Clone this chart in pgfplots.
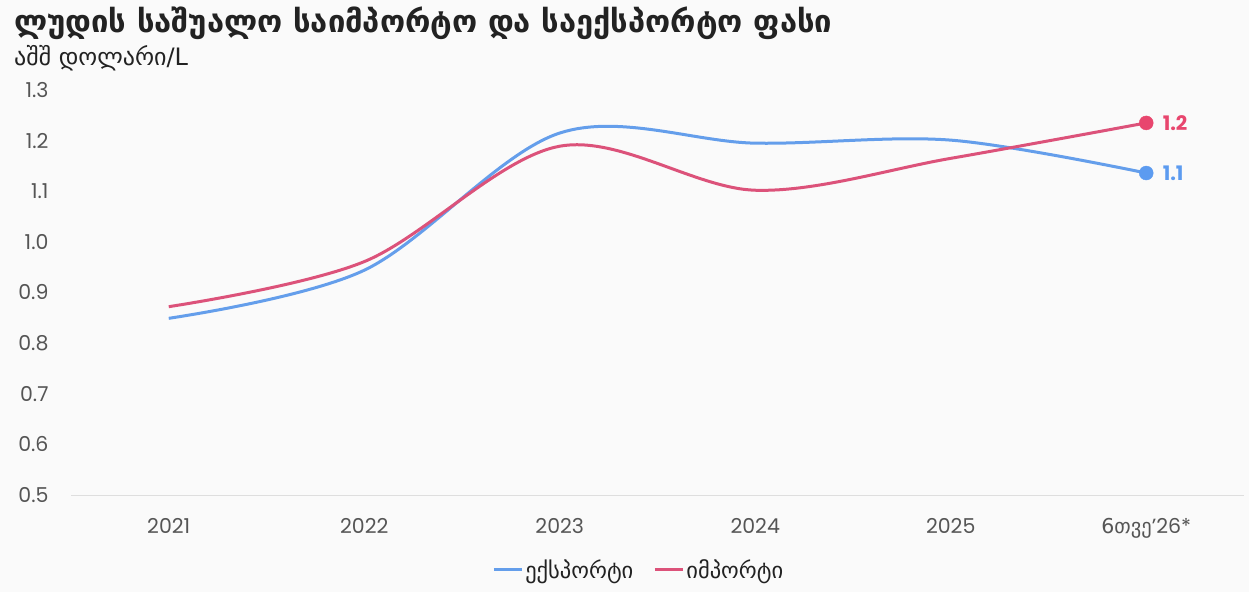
\documentclass[border=0pt]{standalone}
\usepackage{pgfplots}
\pgfplotsset{compat=1.18}
\usepackage{fontspec}
\setmainfont{Poppins}
\newfontfamily\geo{DejaVu Sans}
\definecolor{bg}{HTML}{FAFAFA}
\definecolor{expc}{HTML}{649EEB}
\definecolor{impc}{HTML}{DC527A}
\definecolor{expm}{HTML}{5C9BF0}
\definecolor{impm}{HTML}{E8466E}
\definecolor{tickc}{HTML}{555555}
\definecolor{titlec}{HTML}{222222}
\begin{document}
\begin{tikzpicture}[x=1pt,y=1pt]
\fill[bg] (0,0) rectangle (1249,592);
\node[anchor=base west, font=\geo\bfseries\fontsize{30.9}{34}\selectfont, text=titlec, inner sep=0] at (14,559) {ლუდის საშუალო საიმპორტო და საექსპორტო ფასი};
\node[anchor=base west, font=\geo\fontsize{24}{26}\selectfont, text=titlec, inner sep=0] at (14,526) {აშშ დოლარი/L};
\begin{axis}[
  at={(71pt,97pt)}, anchor=south west, scale only axis,
  width=1173pt, height=405pt,
  xmin=-0.5, xmax=5.5, ymin=0.5, ymax=1.3,
  axis x line=bottom, axis y line=left,
  x axis line style={draw=black!13, line width=1pt, -},
  y axis line style={draw=none, -},
  xtick={0,1,2,3,4,5},
  xticklabels={2021,2022,2023,2024,2025,{\geo 6თვე}'26*},
  ytick={0.5,0.6,...,1.31},
  major tick length=0pt,
  clip=false,
  ticklabel style={font=\fontsize{20.5}{22}\selectfont, text=tickc},
  xticklabel style={yshift=-20pt},
  yticklabel style={anchor=east, xshift=-19pt},
  /pgf/number format/.cd, fixed, fixed zerofill, precision=1, assume math mode=true,
  /pgfplots/.cd,
  legend style={at={(0.484,-0.185)}, anchor=center, draw=none, fill=none,
    font=\geo\fontsize{22.5}{24}\selectfont, text=titlec,
    legend columns=2, /tikz/every even column/.append style={column sep=18pt},
    /tikz/every odd column/.append style={inner xsep=0pt}},
  legend image code/.code={\draw[#1, line width=3pt] (0pt,0pt) -- (28pt,0pt);},
]
\addplot[expc, line width=3pt, smooth, tension=0.55] coordinates {(0,0.849) (1,0.944) (2,1.215) (3,1.195) (4,1.201) (5,1.136)};
\addlegendentry{ექსპორტი}
\addplot[impc, line width=3pt, smooth, tension=0.55] coordinates {(0,0.872) (1,0.961) (2,1.189) (3,1.102) (4,1.165) (5,1.235)};
\addlegendentry{იმპორტი}
\addplot[only marks, mark=*, mark size=7pt, expm, forget plot,
  nodes near coords={\textbf{1.1}}, every node near coord/.style={anchor=west, xshift=13pt, font=\fontsize{20}{22}\selectfont, text=expm}] coordinates {(5,1.136)};
\addplot[only marks, mark=*, mark size=7pt, impm, forget plot,
  nodes near coords={\textbf{1.2}}, every node near coord/.style={anchor=west, xshift=13pt, font=\fontsize{20}{22}\selectfont, text=impm}] coordinates {(5,1.235)};
\end{axis}
\end{tikzpicture}
\end{document}
